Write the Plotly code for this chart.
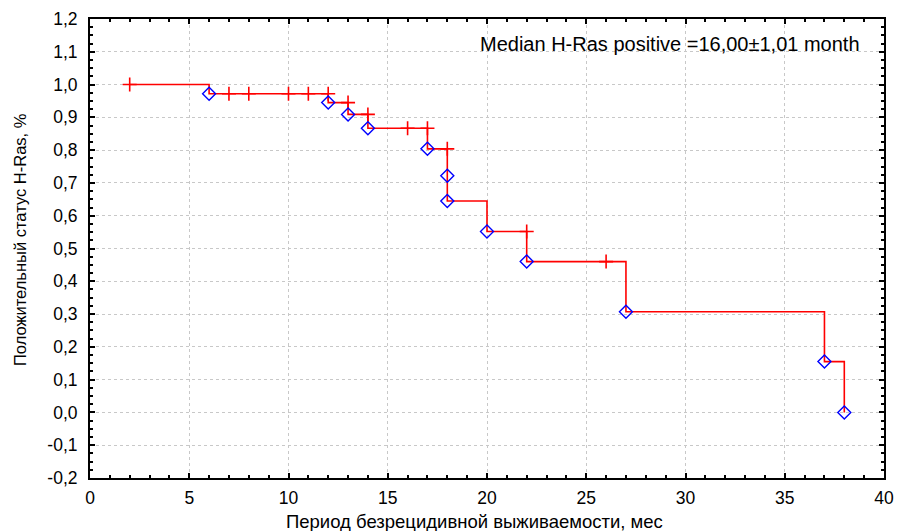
import numpy as np
import plotly.graph_objects as go

# Kaplan-Meier step data
step_x = [2, 6, 12, 13, 14, 17, 18, 18, 20, 22, 27, 37, 38]
step_y = [1.0, 0.972, 0.945, 0.909, 0.867, 0.804, 0.722, 0.645, 0.552, 0.460, 0.307, 0.155, 0.0]

# complete (event) observations
event_x = [6, 12, 13, 14, 17, 18, 18, 20, 22, 27, 37, 38]
event_y = [0.972, 0.945, 0.909, 0.867, 0.804, 0.722, 0.645, 0.552, 0.460, 0.307, 0.155, 0.0]

# censored observations (times)
cens_x = [2, 7, 8, 10, 11, 12, 13, 14, 16, 17, 18, 22, 26]

x_ticks = [0, 5, 10, 15, 20, 25, 30, 35, 40]
y_ticks = [-0.2, -0.1, 0.0, 0.1, 0.2, 0.3, 0.4, 0.5, 0.6, 0.7, 0.8, 0.9, 1.0, 1.1, 1.2]
y_labels = [f"{v:.1f}".replace(".", ",") for v in y_ticks]

annotation_text = "Median H-Ras positive =16,00±1,01 month"
x_title = "Период безрецидивной выживаемости, мес"
y_title = "Положительный статус H-Ras, %"

# survival value just before each censored time
sx = np.array(step_x)
sy = np.array(step_y)
cens_y = []
for c in cens_x:
    prev = sy[sx < c]
    cens_y.append(float(prev[-1]) if len(prev) else float(sy[0]))

FONT = "Liberation Sans, Arial"

fig = go.Figure()
fig.add_trace(go.Scatter(x=step_x, y=step_y, mode="lines", line_shape="hv",
                         line=dict(color="#ff0000", width=1.6), hoverinfo="skip"))
fig.add_trace(go.Scatter(x=cens_x, y=cens_y, mode="markers",
                         marker=dict(symbol="cross-thin-open", size=10, color="#ff0000",
                                     line=dict(color="#ff0000", width=1.6))))
fig.add_trace(go.Scatter(x=event_x, y=event_y, mode="markers",
                         marker=dict(symbol="diamond-open", size=10, color="#0000ff",
                                     line=dict(color="#0000ff", width=1.4))))

axis_common = dict(showline=True, linecolor="black", linewidth=2, mirror="allticks",
                   ticks="inside", ticklen=5, tickwidth=1.5, tickcolor="black",
                   showgrid=True, gridcolor="#c8c8c8", griddash="dot", gridwidth=1,
                   zeroline=False, automargin=False,
                   tickfont=dict(family=FONT, size=17.5, color="black"))

fig.update_xaxes(range=[0, 40], tickvals=x_ticks, ticklabelstandoff=3,
                 minor=dict(dtick=1, ticks="inside", ticklen=3, tickcolor="black", showgrid=False),
                 **axis_common)
fig.update_yaxes(range=[-0.2, 1.2], tickvals=y_ticks, ticktext=y_labels, ticklabelstandoff=7,
                 minor=dict(dtick=0.025, tick0=0, ticks="inside", ticklen=3, tickcolor="black", showgrid=False),
                 **axis_common)

fig.update_layout(width=899, height=531, margin=dict(l=90, r=15, t=19, b=53),
                  plot_bgcolor="white", paper_bgcolor="white", showlegend=False,
                  separators=", ")

fig.add_annotation(x=(862 - 90) / 794, y=(478 - 44) / 459, xref="paper", yref="paper",
                   text=annotation_text, showarrow=False, xanchor="right", yanchor="middle",
                   font=dict(family=FONT, size=20, color="black"))
fig.add_annotation(x=(474 - 90) / 794, y=(478 - 521) / 459, xref="paper", yref="paper",
                   text=x_title, showarrow=False, xanchor="center", yanchor="middle",
                   font=dict(family=FONT, size=18.5, color="black"))
fig.add_annotation(x=(20 - 90) / 794, y=(478 - 240) / 459, xref="paper", yref="paper",
                   text=y_title, textangle=-90, showarrow=False,
                   xanchor="center", yanchor="middle",
                   font=dict(family=FONT, size=16.5, color="black"))

fig.write_html("out.html")
